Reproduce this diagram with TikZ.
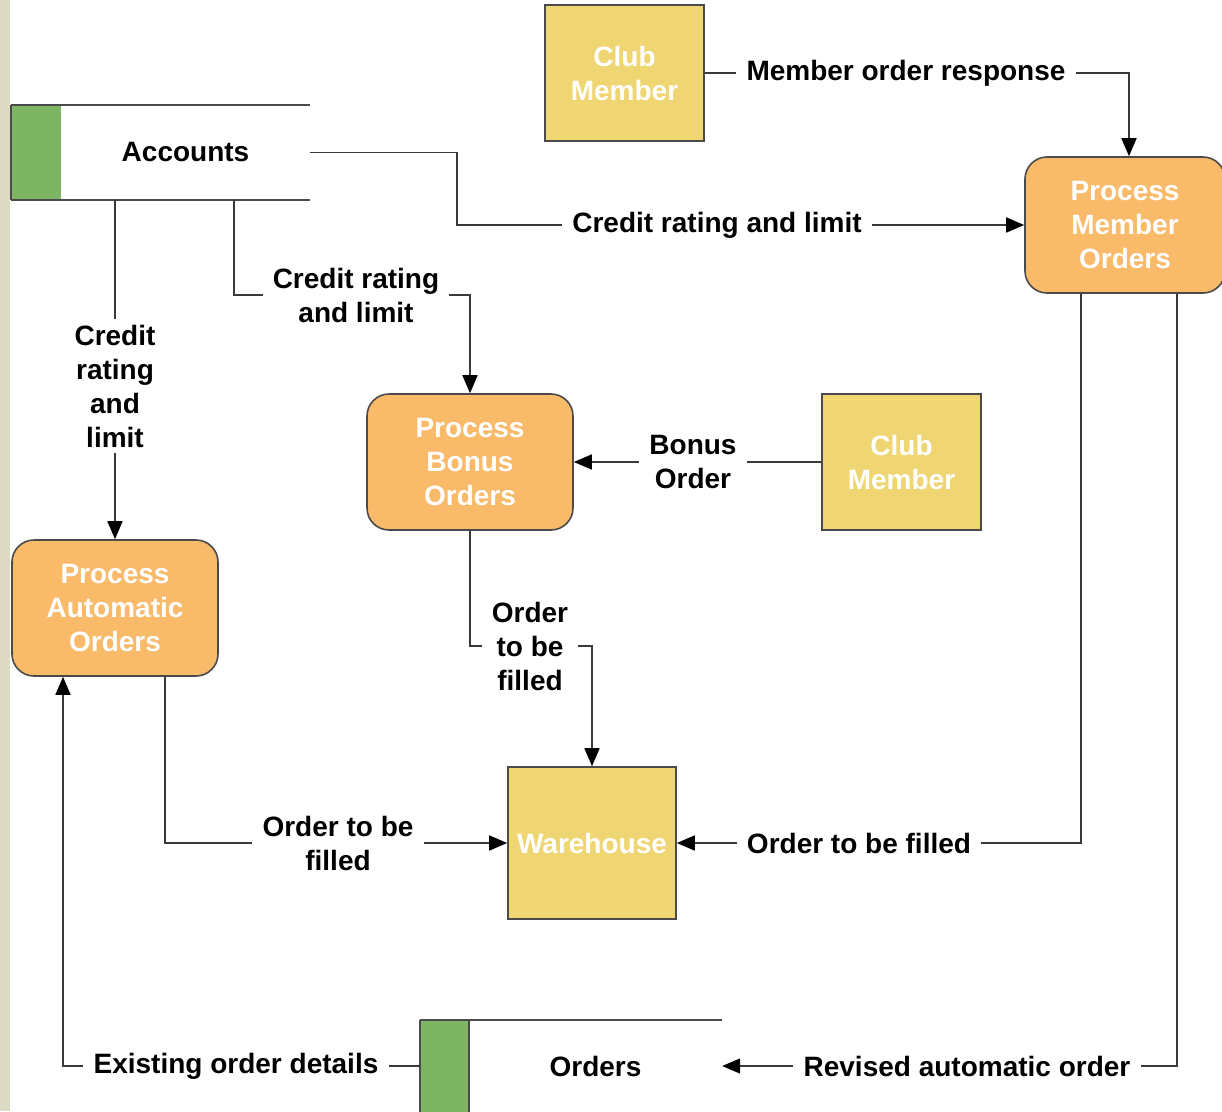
\documentclass[tikz,border=0pt]{standalone}
\usepackage{fontspec}
\setmainfont{Liberation Sans}
\usetikzlibrary{arrows.meta}
\definecolor{strip}{HTML}{DCDAC2}
\definecolor{storegreen}{HTML}{7DB564}
\definecolor{procorange}{HTML}{F9BA6A}
\definecolor{entyellow}{HTML}{F0D673}
\definecolor{edge}{HTML}{4A4A4A}
\definecolor{wire}{HTML}{3A3A3A}

\tikzset{
  txt/.style={font=\fontsize{28}{34}\selectfont\bfseries},
  proc/.style={txt, draw=edge, line width=1.6pt, fill=procorange, rounded corners=22pt,
    minimum width=206pt, minimum height=136pt, text=white, align=center, inner sep=0pt},
  entity/.style={txt, draw=edge, line width=1.6pt, fill=entyellow, text=white,
    align=center, inner sep=0pt},
  store/.style={txt, inner sep=0pt, minimum width=249pt, minimum height=95pt},
  lbl/.style={txt, align=center, inner xsep=10pt, inner ysep=6pt},
  flow/.style={draw=wire, line width=1.6pt},
  arr/.style={flow, -{Triangle[length=18pt,width=15pt,color=black]}},
  storeline/.style={draw=edge, line width=1.6pt},
}

\begin{document}
\begin{tikzpicture}[x=1pt,y=-1pt]
\useasboundingbox (0,0) rectangle (1222,1111);
\fill[white] (0,0) rectangle (1222,1111);
\fill[strip] (0,0) rectangle (10,1111);

% data stores
\node[store] (acc) at (185.5,152.5) {Accounts};
\fill[storegreen] ([xshift=-50pt]acc.south west) rectangle (acc.north west);
\draw[storeline] ([xshift=-50pt]acc.north west) -- (acc.north east);
\draw[storeline] ([xshift=-50pt]acc.south west) -- (acc.south east);
\draw[storeline] ([xshift=-50pt]acc.south west) -- ([xshift=-50pt]acc.north west);

\node[store, minimum width=253pt, minimum height=92pt] (ord) at (595.5,1066) {Orders};
\fill[storegreen] ([xshift=-49pt]ord.south west) rectangle (ord.north west);
\draw[storeline] ([xshift=-49pt]ord.north west) -- (ord.north east);
\draw[storeline] ([xshift=-49pt]ord.south west) -- ([xshift=-49pt]ord.north west);
\draw[storeline] (ord.south west) -- (ord.north west);

% external entities
\node[entity, minimum width=159pt, minimum height=136pt] (cm1) at (624.5,73) {Club\\Member};
\node[entity, minimum width=159pt, minimum height=136pt] (cm2) at (901.5,462) {Club\\Member};
\node[entity, minimum width=168pt, minimum height=152pt] (wh) at (592,843) {Warehouse};

% processes
\node[proc, minimum width=200pt] (pmo) at (1125,225) {Process\\Member\\Orders};
\node[proc] (pbo) at (470,462) {Process\\Bonus\\Orders};
\node[proc] (pao) at (115,608) {Process\\Automatic\\Orders};

% flow labels
\node[lbl] (l1) at (906,73) {Member order response};
\node[lbl] (l2) at (717,225) {Credit rating and limit};
\node[lbl] (l3) at (356,295) {Credit rating\\and limit};
\node[lbl] (l4) at (115,386) {Credit\\rating\\and\\limit};
\node[lbl] (l5) at (693,462) {Bonus\\Order};
\node[lbl] (l6) at (530,646) {Order\\to be\\filled};
\node[lbl] (l7) at (338,843) {Order to be\\filled};
\node[lbl] (l8) at (859,843) {Order to be filled};
\node[lbl] (l9) at (967,1066) {Revised automatic order};
\node[lbl] (l10) at (236,1066) {Existing order details};

% bends
\coordinate (b2) at (457,152.5);

% flows
\draw[flow] (cm1.east) -- (l1.west);
\draw[arr] (l1.east) -| ([xshift=4pt]pmo.north);

\draw[flow] (acc.east) -- (b2) |- (l2.west);
\draw[arr] (l2.east) -- (l2.east -| pmo.west);

\draw[flow] ([xshift=48.5pt]acc.south) |- (l3.west);
\draw[arr] (l3.east) -| (pbo.north);

\draw[flow] (acc.south -| l4.north) -- (l4.north);
\draw[arr] (l4.south) -- (pao.north);

\draw[flow] (cm2.west) -- (l5.east);
\draw[arr] (l5.west) -- (l5.west -| pbo.east);

\draw[flow] (pbo.south) |- (l6.west);
\draw[arr] (l6.east) -| (wh.north);

\draw[flow] ([xshift=50pt]pao.south) |- (l7.west);
\draw[arr] (l7.east) -- (l7.east -| wh.west);

\draw[flow] ([xshift=-44pt]pmo.south) |- (l8.east);
\draw[arr] (l8.west) -- (l8.west -| wh.east);

\draw[flow] ([xshift=52pt]pmo.south) |- (l9.east);
\draw[arr] (l9.west) -- (l9.west -| ord.east);

\draw[flow] ([xshift=-49pt]ord.west) -- (l10.east);
\draw[arr] (l10.west) -| ([xshift=-52pt]pao.south);
\end{tikzpicture}
\end{document}
